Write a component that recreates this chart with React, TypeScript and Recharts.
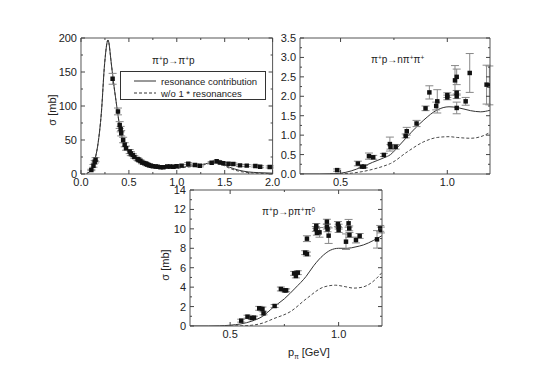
import { ComposedChart, Line, Scatter, ErrorBar, XAxis, YAxis, ZAxis, Legend } from 'recharts';

// measured points: [p, sigma, error]
const elasticPts = [
    [0.108, 5.9, 1], [0.13, 12, 2], [0.143, 18, 2], [0.152, 21, 3], [0.33, 140, 8],
    [0.386, 92, 5], [0.404, 72, 5], [0.414, 66, 4], [0.42, 60, 4], [0.44, 50, 4],
    [0.456, 43, 3], [0.47, 38, 3], [0.508, 33, 3], [0.52, 30, 3], [0.54, 28, 2],
    [0.557, 25, 2], [0.59, 22, 2], [0.6, 21, 2], [0.62, 19, 2], [0.64, 17, 2],
    [0.66, 16, 2], [0.68, 15, 2], [0.69, 14, 2], [0.71, 13, 1.5], [0.73, 12, 1.5],
    [0.75, 11.5, 1.5], [0.78, 11, 1.5], [0.8, 10.5, 1.5], [0.83, 10, 1.5], [0.86, 10, 1.5],
    [0.9, 11, 1.5], [0.93, 11, 1.5], [0.963, 10.7, 1.5], [0.998, 11.4, 1.5], [1.05, 12.3, 1.5],
    [1.12, 15.2, 1.5], [1.19, 13.2, 1.5], [1.24, 12, 1.5], [1.364, 16.7, 1.5], [1.416, 18.6, 1.5],
    [1.45, 17, 1.5], [1.486, 15.7, 1.5], [1.54, 15, 1.5], [1.59, 14.7, 1.5], [1.66, 12.7, 1.5],
    [1.73, 12.3, 1.5], [1.82, 11.8, 1.5], [1.87, 10.7, 1.5], [1.97, 10.4, 1.5],
];
const elasticRes = [
    [0.06, 1], [0.1, 5], [0.143, 20], [0.178, 45], [0.212, 89], [0.247, 163], [0.282, 197],
    [0.316, 163], [0.334, 141], [0.369, 104], [0.404, 70], [0.456, 43], [0.5, 33], [0.55, 26],
    [0.6, 21], [0.7, 14], [0.8, 10], [0.9, 9], [1.0, 9.5], [1.1, 11], [1.2, 12.5], [1.3, 15],
    [1.38, 17.5], [1.45, 16], [1.55, 10], [1.65, 5.5], [1.75, 3], [1.85, 2], [2.0, 1.2],
];
const elasticWo = [
    [0.06, 1], [0.1, 5], [0.143, 20], [0.178, 45], [0.212, 89], [0.247, 163], [0.282, 197],
    [0.316, 163], [0.334, 141], [0.369, 104], [0.404, 70], [0.456, 43], [0.5, 33], [0.55, 26],
    [0.6, 21], [0.7, 14], [0.8, 10], [0.9, 8.6], [1.0, 8.5], [1.1, 10], [1.2, 11.5], [1.3, 14],
    [1.38, 16.5], [1.45, 15], [1.55, 8.5], [1.65, 4], [1.75, 2], [1.85, 1], [2.0, 0.5],
];

const npipiPts = [
    [0.484, 0.1, 0.03], [0.581, 0.27, 0.06], [0.6, 0.19, 0.03], [0.61, 0.19, 0.03], [0.633, 0.46, 0.08],
    [0.653, 0.43, 0.05], [0.703, 0.49, 0.04], [0.731, 0.77, 0.18], [0.734, 0.7, 0.06], [0.758, 0.7, 0.06],
    [0.805, 0.98, 0.05], [0.81, 1.1, 0.1], [0.856, 1.3, 0.08], [0.898, 1.69, 0.06], [0.916, 2.1, 0.17],
    [0.948, 1.75, 0.1], [0.953, 1.87, 0.3], [1.0, 1.97, 0.06], [1.0, 2.03, 0.06], [1.036, 2.41, 0.38],
    [1.044, 2.5, 0.2], [1.044, 2.09, 0.06], [1.044, 2.0, 0.06], [1.044, 1.7, 0.15], [1.086, 1.87, 0.1],
    [1.105, 2.6, 0.5], [1.184, 2.3, 0.5], [1.197, 2.28, 0.5],
];
const npipiRes = [
    [0.31, 0], [0.4, 0], [0.45, 0.005], [0.5, 0.02], [0.55, 0.08], [0.6, 0.18], [0.65, 0.3],
    [0.7, 0.41], [0.734, 0.5], [0.7725, 0.72], [0.8125, 0.96], [0.85, 1.18], [0.89, 1.39],
    [0.953, 1.65], [1.008, 1.73], [1.047, 1.71], [1.109, 1.63], [1.156, 1.6], [1.2, 1.64],
];
const npipiWo = [
    [0.45, 0], [0.5, 0.005], [0.55, 0.02], [0.6, 0.06], [0.65, 0.12], [0.7, 0.2], [0.734, 0.27],
    [0.8125, 0.57], [0.89, 0.83], [0.953, 0.94], [1.008, 0.96], [1.047, 0.94], [1.109, 0.92],
    [1.156, 0.96], [1.2, 1.07],
];

const ppipi0Pts = [
    [0.551, 0.55, 0.15], [0.58, 0.96, 0.15], [0.6, 0.82, 0.15], [0.61, 0.86, 0.15], [0.634, 1.82, 0.2],
    [0.649, 1.75, 0.2], [0.654, 1.3, 0.15], [0.705, 2.06, 0.15], [0.734, 3.81, 0.2], [0.751, 3.67, 0.15],
    [0.758, 3.67, 0.15], [0.795, 5.42, 0.2], [0.803, 5.15, 0.2], [0.812, 5.49, 0.2], [0.846, 7.55, 0.2],
    [0.854, 7.41, 0.2], [0.854, 8.99, 0.3], [0.897, 10.3, 0.25], [0.895, 9.99, 0.25], [0.9, 9.6, 0.25],
    [0.912, 9.64, 0.5], [0.946, 10.74, 0.25], [0.946, 10.23, 0.25], [0.949, 9.95, 0.25], [0.954, 9.3, 0.8],
    [0.997, 10.5, 0.25], [1.0, 10.23, 0.25], [1.0, 9.88, 0.25], [1.046, 10.57, 0.4], [1.049, 10.05, 0.25],
    [1.034, 8.68, 0.8], [1.05, 9.37, 0.25], [1.08, 8.85, 0.3], [1.097, 9.27, 0.25], [1.177, 8.92, 0.9],
    [1.192, 10.05, 0.3], [1.195, 9.88, 0.3],
];
const ppipi0Res = [
    [0.315, 0], [0.4, 0], [0.45, 0.02], [0.5, 0.08], [0.55, 0.22], [0.6, 0.5], [0.65, 1.0],
    [0.7, 1.95], [0.75, 2.8], [0.8, 3.9], [0.85, 5.1], [0.885, 6.2], [0.93, 7.3], [0.962, 7.8],
    [1.0, 8.0], [1.04, 8.0], [1.08, 8.15], [1.115, 8.35], [1.16, 8.8], [1.2, 9.3],
];
const ppipi0Wo = [
    [0.5, 0], [0.55, 0.02], [0.6, 0.08], [0.65, 0.3], [0.7, 0.75], [0.777, 1.47], [0.854, 2.85],
    [0.93, 4.0], [0.985, 4.2], [1.03, 4.05], [1.07, 3.9], [1.11, 4.0], [1.148, 4.4], [1.2, 5.5],
];

const legendItems = [
    { label: 'resonance contribution', dash: '' },
    { label: 'w/o 1 * resonances', dash: '3 2' },
];

const FONT = '"Liberation Sans", Arial, sans-serif';
const INK = '#222';

const pts = (a: number[][]) => a.map(([x, y, err]) => ({ x, y, err }));
const crv = (a: number[][]) => a.map(([x, y]) => ({ x, y }));

const range = (from: number, to: number, step: number) => {
    const out: number[] = [];
    for (let v = from; v <= to + 1e-9; v += step) out.push(+v.toFixed(4));
    return out;
};

const makeTick = (side: string, majors: number[], digits: number) => (props: any) => {
    const { x, y, payload } = props;
    const v = payload.value;
    const major = majors.some((m) => Math.abs(m - v) < 1e-6);
    const len = major ? 4 : 2;
    let line;
    let label = null;
    if (side === 'bottom') {
        line = <line x1={x} y1={y} x2={x} y2={y - len} stroke="#444" />;
        if (major) label = <text x={x} y={y + 12} textAnchor="middle" fontSize={11} fill={INK} fontFamily={FONT}>{v.toFixed(digits)}</text>;
    } else if (side === 'top') {
        line = <line x1={x} y1={y} x2={x} y2={y + len} stroke="#444" />;
    } else if (side === 'left') {
        line = <line x1={x} y1={y} x2={x + len} y2={y} stroke="#444" />;
        if (major) label = <text x={x - 4} y={y + 4} textAnchor="end" fontSize={11} fill={INK} fontFamily={FONT}>{v.toFixed(digits)}</text>;
    } else {
        line = <line x1={x} y1={y} x2={x - len} y2={y} stroke="#444" />;
    }
    return <g>{line}{label}</g>;
};

const LegendBox = () => (
    <div style={{ border: '1px solid #333', background: '#fff', width: 146, height: 29, boxSizing: 'border-box', padding: '3px 0 0 13px' }}>
        {legendItems.map((it) => (
            <div key={it.label} style={{ display: 'flex', alignItems: 'center', height: 12, fontFamily: FONT, fontSize: 9.5, color: INK }}>
                <svg width={22} height={4} style={{ marginRight: 5 }}>
                    <line x1={0} y1={2} x2={22} y2={2} stroke="#333" strokeDasharray={it.dash || undefined} />
                </svg>
                {it.label}
            </div>
        ))}
    </div>
);

interface PanelProps {
    left: number; top: number; right: number; bottom: number;
    xDomain: [number, number]; yDomain: [number, number];
    xMajor: number[]; xMinor: number[]; yMajor: number[]; yMinor: number[];
    xDigits: number; yDigits: number;
    points: any[]; res: any[]; wo: any[];
    legend?: boolean;
}

const Panel = (p: PanelProps) => {
    const w = p.right - p.left;
    const h = p.bottom - p.top;
    const xTicks = [...p.xMajor, ...p.xMinor].sort((a, b) => a - b);
    const yTicks = [...p.yMajor, ...p.yMinor].sort((a, b) => a - b);
    return (
        <div style={{ position: 'absolute', left: p.left - 50, top: p.top - 8 }}>
            <ComposedChart width={w + 60} height={h + 32} margin={{ top: 7, right: 9, bottom: 4, left: 0 }}>
                <XAxis type="number" dataKey="x" domain={p.xDomain} allowDataOverflow ticks={xTicks} interval={0}
                    height={20} tickSize={0} tickMargin={0} tickLine={false} stroke="#555" tick={makeTick('bottom', p.xMajor, p.xDigits)} />
                <XAxis xAxisId="t" orientation="top" type="number" dataKey="x" domain={p.xDomain} allowDataOverflow ticks={xTicks} interval={0}
                    height={1} tickSize={0} tickMargin={0} tickLine={false} stroke="#555" tick={makeTick('top', p.xMajor, p.xDigits)} />
                <YAxis type="number" dataKey="y" domain={p.yDomain} allowDataOverflow ticks={yTicks} interval={0}
                    width={50} tickSize={0} tickMargin={0} tickLine={false} stroke="#555" tick={makeTick('left', p.yMajor, p.yDigits)} />
                <YAxis yAxisId="r" orientation="right" type="number" dataKey="y" domain={p.yDomain} allowDataOverflow ticks={yTicks} interval={0}
                    width={1} tickSize={0} tickMargin={0} tickLine={false} stroke="#555" tick={makeTick('right', p.yMajor, p.yDigits)} />
                <ZAxis range={[20, 20]} />
                <Line data={p.wo} dataKey="y" type="monotone" stroke="#333" strokeWidth={0.9} strokeDasharray="3 2" dot={false} isAnimationActive={false} />
                <Line data={p.res} dataKey="y" type="monotone" stroke="#333" strokeWidth={1} dot={false} isAnimationActive={false} />
                <Scatter data={p.points} dataKey="y" fill="#111" shape="square" isAnimationActive={false}>
                    <ErrorBar dataKey="err" direction="y" width={4} stroke="#888" strokeWidth={1} isAnimationActive={false} />
                </Scatter>
                {p.legend && (
                    <Legend layout="vertical" align="center" verticalAlign="middle" content={() => <LegendBox />}
                        wrapperStyle={{ position: 'absolute', left: 89, top: 41, width: 146, height: 29 }} />
                )}
            </ComposedChart>
        </div>
    );
};

const txt: React.CSSProperties = { position: 'absolute', fontFamily: FONT, color: INK, whiteSpace: 'nowrap', lineHeight: 1 };
const sup: React.CSSProperties = { fontSize: '0.65em', verticalAlign: '0.5em' };

export default function App() {
    return (
        <div style={{ position: 'absolute', left: 0, top: 0, width: 545, height: 380, background: '#fff', overflow: 'hidden' }}>
            <Panel left={81} top={38} right={272.6} bottom={174} xDomain={[0, 2]} yDomain={[0, 200]}
                xMajor={range(0, 2, 0.5)} xMinor={range(0.25, 1.75, 0.5)} yMajor={range(0, 200, 50)} yMinor={range(25, 175, 50)}
                xDigits={1} yDigits={0} points={pts(elasticPts)} res={crv(elasticRes)} wo={crv(elasticWo)} legend />
            <Panel left={300} top={38} right={490} bottom={174} xDomain={[0.31, 1.2]} yDomain={[0, 3.5]}
                xMajor={[0.5, 1.0]} xMinor={[0.75]} yMajor={range(0, 3.5, 0.5)} yMinor={range(0.25, 3.25, 0.5)}
                xDigits={1} yDigits={1} points={pts(npipiPts)} res={crv(npipiRes)} wo={crv(npipiWo)} />
            <Panel left={190} top={190} right={382} bottom={326} xDomain={[0.315, 1.2]} yDomain={[0, 14]}
                xMajor={[0.5, 1.0]} xMinor={[0.75]} yMajor={range(0, 14, 2)} yMinor={range(1, 13, 2)}
                xDigits={1} yDigits={0} points={pts(ppipi0Pts)} res={crv(ppipi0Res)} wo={crv(ppipi0Wo)} />

            <div style={{ ...txt, left: 152, top: 56, fontSize: 10 }}>π<span style={sup}>+</span>p→π<span style={sup}>+</span>p</div>
            <div style={{ ...txt, left: 371, top: 55, fontSize: 10 }}>π<span style={sup}>+</span>p→nπ<span style={sup}>+</span>π<span style={sup}>+</span></div>
            <div style={{ ...txt, left: 262, top: 207, fontSize: 10 }}>π<span style={sup}>+</span>p→pπ<span style={sup}>+</span>π<span style={sup}>0</span></div>

            <div style={{ ...txt, left: 52, top: 110, fontSize: 11, transform: 'translate(-50%, -50%) rotate(-90deg)' }}>σ [mb]</div>
            <div style={{ ...txt, left: 165, top: 265, fontSize: 11, transform: 'translate(-50%, -50%) rotate(-90deg)' }}>σ [mb]</div>
            <div style={{ ...txt, left: 288, top: 347, fontSize: 11 }}>p<sub style={{ fontSize: '0.6em' }}>π</sub> [GeV]</div>
        </div>
    );
}
